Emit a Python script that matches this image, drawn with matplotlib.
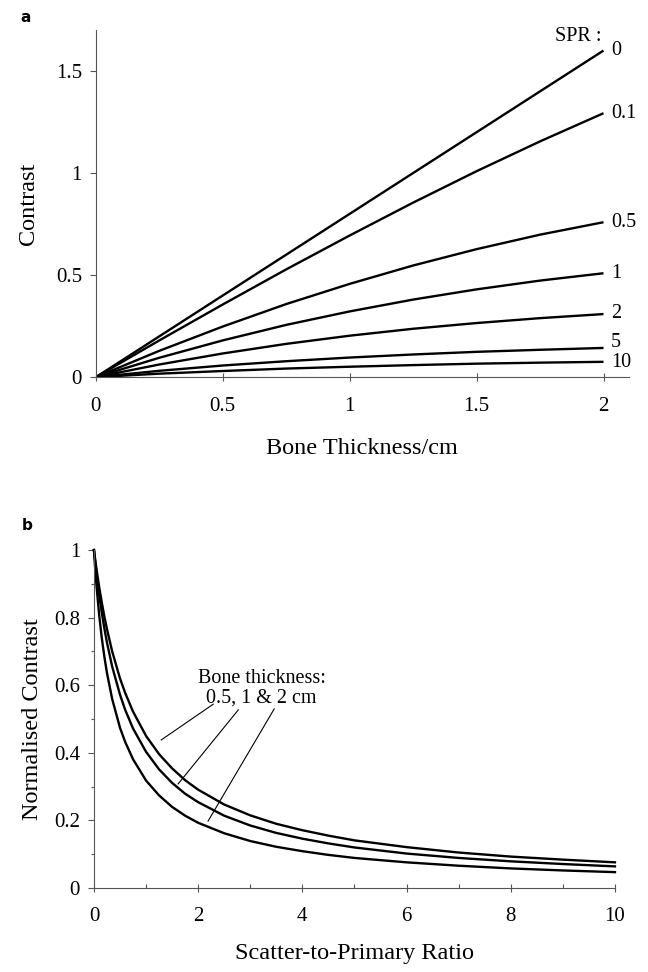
import matplotlib
matplotlib.use("Agg")
import matplotlib.pyplot as plt
from matplotlib.ticker import MultipleLocator

plt.rcParams['font.family'] = ['Liberation Serif', 'DejaVu Serif']

# ---------------- Panel a data ----------------
thickness = [0, 0.25, 0.5, 0.75, 1.0, 1.25, 1.5, 1.75, 2.0]
spr_labels = ["0", "0.1", "0.5", "1", "2", "5", "10"]
contrast_spr0 = [0, 0.200, 0.400, 0.600, 0.800, 1.000, 1.200, 1.400, 1.600]
contrast_spr01 = [0, 0.180, 0.356, 0.528, 0.694, 0.855, 1.009, 1.155, 1.293]
contrast_spr05 = [0, 0.129, 0.248, 0.358, 0.457, 0.547, 0.627, 0.698, 0.759]
contrast_spr1 = [0, 0.095, 0.180, 0.256, 0.322, 0.380, 0.430, 0.473, 0.509]
contrast_spr2 = [0, 0.062, 0.116, 0.163, 0.203, 0.237, 0.265, 0.289, 0.309]
contrast_spr5 = [0, 0.031, 0.057, 0.078, 0.096, 0.111, 0.124, 0.134, 0.143]
contrast_spr10 = [0, 0.017, 0.030, 0.042, 0.051, 0.059, 0.066, 0.071, 0.075]
label_y = [1.60, 1.29, 0.76, 0.51, 0.31, 0.17, 0.073]

# ---------------- Panel b data ----------------
spr = [0, 0.02, 0.05, 0.1, 0.15, 0.2, 0.25, 0.35, 0.5, 0.6, 0.75, 1.0, 1.25,
       1.5, 1.75, 2, 2.5, 3, 3.5, 4, 4.5, 5, 6, 7, 8, 9, 10]
norm_05cm = [1, 0.976, 0.942, 0.891, 0.845, 0.803, 0.766, 0.700, 0.620, 0.577,
             0.522, 0.450, 0.396, 0.354, 0.319, 0.291, 0.247, 0.215, 0.190,
             0.171, 0.155, 0.141, 0.121, 0.105, 0.093, 0.084, 0.076]
norm_1cm = [1, 0.970, 0.929, 0.868, 0.815, 0.768, 0.726, 0.655, 0.572, 0.527,
            0.472, 0.403, 0.351, 0.311, 0.279, 0.254, 0.214, 0.185, 0.163,
            0.146, 0.132, 0.120, 0.102, 0.089, 0.079, 0.071, 0.064]
norm_2cm = [1, 0.953, 0.892, 0.808, 0.740, 0.684, 0.636, 0.559, 0.474, 0.432,
            0.381, 0.318, 0.274, 0.240, 0.214, 0.193, 0.162, 0.139, 0.122,
            0.109, 0.098, 0.089, 0.076, 0.066, 0.058, 0.052, 0.047]

fig = plt.figure(figsize=(6.48, 9.72), dpi=100)

TICK_FS = 15
LABEL_FS = 17.5
ANN_FS = 14.5
LW = 1.7
SPINE = '#555555'

# ---------------- Panel a ----------------
ax1 = fig.add_axes([0.148, 0.612, 0.8225, 0.357])
series = [contrast_spr0, contrast_spr01, contrast_spr05, contrast_spr1,
          contrast_spr2, contrast_spr5, contrast_spr10]
for ys, lab, ly in zip(series, spr_labels, label_y):
    ax1.plot(thickness, ys, color='black', lw=LW, solid_capstyle='butt')
    ax1.text(2.03, ly, lab, fontsize=ANN_FS, ha='left', va='center')
ax1.text(1.90, 1.668, "SPR :", fontsize=ANN_FS, ha='center', va='center')

ax1.set_xlim(0, 2.1)
ax1.set_ylim(0, 1.7)
ax1.set_xticks([0, 0.5, 1, 1.5, 2])
ax1.set_xticklabels(["0", "0.5", "1", "1.5", "2"])
ax1.set_yticks([0, 0.5, 1, 1.5])
ax1.set_yticklabels(["0", "0.5", "1", "1.5"])
for s in ['top', 'right']:
    ax1.spines[s].set_visible(False)
for s in ['left', 'bottom']:
    ax1.spines[s].set_color(SPINE)
    ax1.spines[s].set_linewidth(0.8)
ax1.tick_params(axis='x', direction='inout', length=6, width=0.8, color=SPINE,
                labelsize=TICK_FS, pad=11)
ax1.tick_params(axis='y', direction='out', length=4, width=0.8, color=SPINE,
                labelsize=TICK_FS, pad=6)
ax1.set_xlabel("Bone Thickness/cm", fontsize=LABEL_FS, labelpad=16)
ax1.set_ylabel("Contrast", fontsize=LABEL_FS, labelpad=12)
fig.text(20 / 648, 1 - 17 / 972, "a", fontsize=11, fontweight='bold',
         family='DejaVu Sans', ha='left', va='center')

# ---------------- Panel b ----------------
ax2 = fig.add_axes([0.145, 0.0864, 0.804, 0.3477])
for ys in [norm_05cm, norm_1cm, norm_2cm]:
    ax2.plot(spr, ys, color='black', lw=LW, clip_on=False)

ax2.set_xlim(0, 10)
ax2.set_ylim(0, 1)
ax2.set_xticks([0, 2, 4, 6, 8, 10])
ax2.set_xticklabels(["0", "2", "4", "6", "8", "10"])
ax2.set_yticks([0, 0.2, 0.4, 0.6, 0.8, 1])
ax2.set_yticklabels(["0", "0.2", "0.4", "0.6", "0.8", "1"])
ax2.xaxis.set_minor_locator(MultipleLocator(1))
ax2.yaxis.set_minor_locator(MultipleLocator(0.1))
for s in ['top', 'right']:
    ax2.spines[s].set_visible(False)
for s in ['left', 'bottom']:
    ax2.spines[s].set_color(SPINE)
    ax2.spines[s].set_linewidth(0.8)
ax2.tick_params(axis='x', which='major', direction='inout', length=6, width=0.8,
                color=SPINE, labelsize=TICK_FS, pad=11)
ax2.tick_params(axis='x', which='minor', direction='in', length=3, width=0.8,
                color=SPINE)
ax2.tick_params(axis='y', which='major', direction='out', length=4, width=0.8,
                color=SPINE, labelsize=TICK_FS, pad=6)
ax2.tick_params(axis='y', which='minor', direction='out', length=2.5, width=0.8,
                color=SPINE)
ax2.set_xlabel("Scatter-to-Primary Ratio", fontsize=LABEL_FS, labelpad=12)
ax2.set_ylabel("Normalised Contrast", fontsize=LABEL_FS, labelpad=8)

ax2.text(3.22, 0.619, "Bone thickness:", fontsize=ANN_FS, ha='center', va='center')
ax2.text(3.22, 0.562, "0.5, 1 & 2 cm", fontsize=ANN_FS, ha='center', va='center')
leaders = [((2.29, 0.544), (1.29, 0.438)),
           ((2.77, 0.527), (1.615, 0.308)),
           ((3.46, 0.530), (2.19, 0.198))]
for (x0, y0), (x1, y1) in leaders:
    ax2.plot([x0, x1], [y0, y1], color='black', lw=0.8)

fig.text(22 / 648, 1 - 525 / 972, "b", fontsize=11, fontweight='bold',
         family='DejaVu Sans', ha='left', va='center')

fig.savefig("out.png", dpi=100)
